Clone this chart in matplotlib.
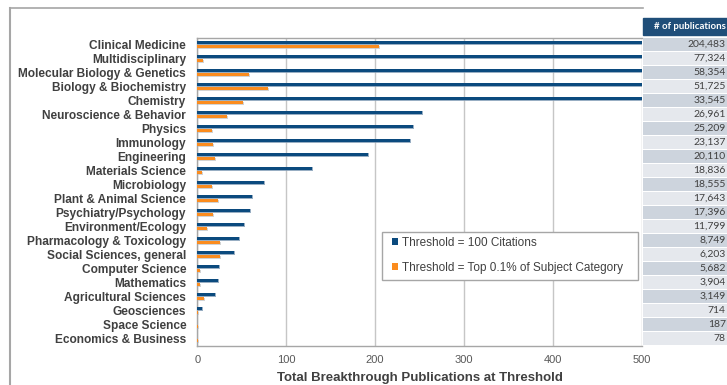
import matplotlib
matplotlib.use("Agg")
import matplotlib.pyplot as plt
import matplotlib.patheffects as pe
from matplotlib.patches import Rectangle, Patch
from matplotlib.lines import Line2D
import numpy as np

plt.rcParams["font.family"] = "Liberation Sans"

categories = [
    "Clinical Medicine", "Multidisciplinary", "Molecular Biology & Genetics",
    "Biology & Biochemistry", "Chemistry", "Neuroscience & Behavior", "Physics",
    "Immunology", "Engineering", "Materials Science", "Microbiology",
    "Plant & Animal Science", "Psychiatry/Psychology", "Environment/Ecology",
    "Pharmacology & Toxicology", "Social Sciences, general", "Computer Science",
    "Mathematics", "Agricultural Sciences", "Geosciences", "Space Science",
    "Economics & Business",
]
# first five run off the 0-500 scale
citations_100 = [1120, 560, 830, 540, 610, 253, 242, 239, 192, 129, 75, 62,
                 59, 52, 47, 41, 24, 23, 20, 5, 0, 0]
top_01_pct = [204, 6, 58, 79, 51, 33, 17, 18, 20, 5, 17, 23,
              18, 11, 26, 25, 3, 3, 8, 1, 1, 1]
publications = [204483, 77324, 58354, 51725, 33545, 26961, 25209, 23137,
                20110, 18836, 18555, 17643, 17396, 11799, 8749, 6203, 5682,
                3904, 3149, 714, 187, 78]

blue = "#0b4a7e"
orange = "#fb8c1e"
grey_txt = "#404040"

W, H = 727, 385


def fx(px):
    return px / W


def fy(py):
    return 1 - py / H


fig = plt.figure(figsize=(W / 100, H / 100), dpi=100)

top_px, bot_px = 37.5, 345.5
ax = fig.add_axes([fx(197.3), fy(bot_px), fx(642) - fx(197.3), (bot_px - top_px) / H])
y = np.arange(len(categories))

shadow_b = [pe.SimplePatchShadow(offset=(0.7, -0.7), shadow_rgbFace="#7f9ab5", alpha=0.8), pe.Normal()]
shadow_o = [pe.SimplePatchShadow(offset=(0.7, -0.7), shadow_rgbFace="#c8c8c8", alpha=0.8), pe.Normal()]
ax.barh(y - 0.145, citations_100, height=0.28, color=blue, zorder=3, path_effects=shadow_b)
ax.barh(y + 0.145, top_01_pct, height=0.28, color=orange, zorder=3, path_effects=shadow_o)

ax.set_xlim(0, 500)
ax.set_ylim(len(categories) - 0.5, -0.5)
ax.set_xticks([0, 100, 200, 300, 400, 500])
ax.set_yticks(y)
ax.set_yticklabels(categories, fontsize=8.6, fontweight="bold", color=grey_txt)
ax.tick_params(axis="y", length=0, pad=8)
ax.tick_params(axis="x", length=0, pad=7, labelsize=8, labelcolor="#595959")
ax.grid(axis="x", color="#c6c6c6", lw=1)
ax.set_axisbelow(True)
for s in ["top", "left", "bottom"]:
    ax.spines[s].set_color("#a6a6a6")
    ax.spines[s].set_linewidth(1)
ax.spines["right"].set_visible(False)
ax.set_xlabel("Total Breakthrough Publications at Threshold", fontsize=9.5,
              fontweight="bold", color=grey_txt, labelpad=5)

# legend: entries without frame, box drawn separately
handles = [Patch(facecolor=blue, label="Threshold = 100 Citations"),
           Patch(facecolor=orange, label="Threshold = Top 0.1% of Subject Category")]
leg = fig.legend(handles=handles, loc="upper left", bbox_to_anchor=(fx(392), fy(236.5)),
                 frameon=False, fontsize=8.5, handlelength=0.5, handleheight=0.5,
                 handletextpad=0.35, labelspacing=1.12, borderpad=0, borderaxespad=0)
for t in leg.get_texts():
    t.set_color(grey_txt)
fig.add_artist(Rectangle((fx(382), fy(280)), fx(638) - fx(382), 48 / H,
                         transform=fig.transFigure, facecolor="white",
                         edgecolor="#a6a6a6", lw=1, zorder=2.5))
leg.set_zorder(3)

# publication counts table on the right
tax = fig.add_axes([fx(643), fy(bot_px), 1 - fx(643), (bot_px - top_px) / H])
tax.set_xlim(0, 1)
tax.set_ylim(len(categories) - 0.5, -0.5)
tax.axis("off")
row_colors = ["#cdd4dd" if i % 2 == 0 else "#e5e8ed" for i in range(len(categories))]
tax.barh(y, [1] * len(categories), height=0.9, color=row_colors)
for i, n in enumerate(publications):
    tax.text(0.985, i, f"{n:,}", ha="right", va="center", fontsize=7.5,
             family="Lato", color=grey_txt)

fig.add_artist(Rectangle((fx(643), fy(35)), 1 - fx(643), 17 / H,
                         transform=fig.transFigure, color="#1f4e79"))
fig.text(fx(689.5), fy(26.5), "# of publications", ha="center", va="center",
         color="white", fontsize=6.9, fontweight="bold", family="Lato")

# outer frame
fig.add_artist(Line2D([fx(10), fx(10)], [fy(8), 0], transform=fig.transFigure,
                      color="#a6a6a6", lw=1.5))
fig.add_artist(Line2D([fx(10), fx(643)], [fy(8), fy(8)], transform=fig.transFigure,
                      color="#a6a6a6", lw=1.2))

fig.savefig("out.png", dpi=100)
